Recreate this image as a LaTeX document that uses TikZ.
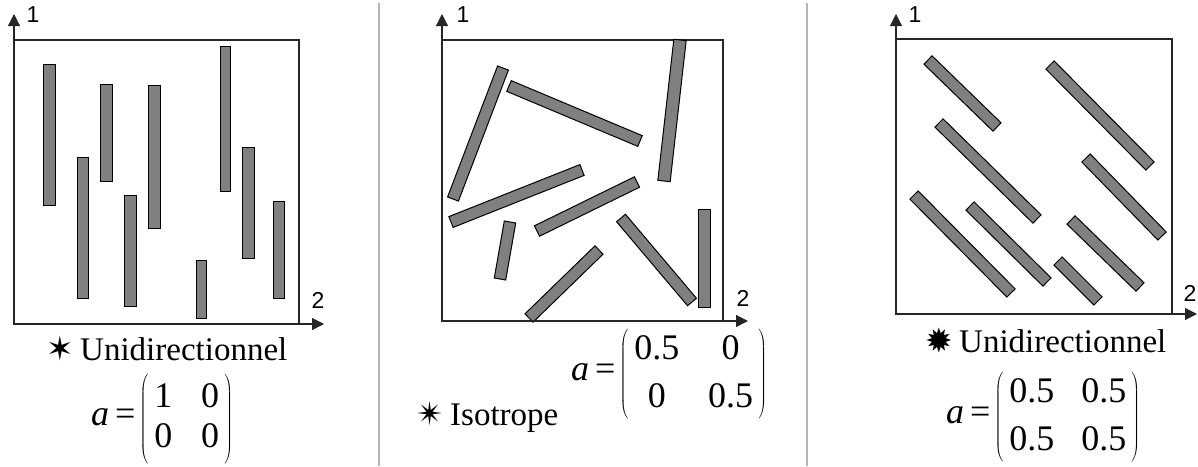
\documentclass[tikz,border=0pt]{standalone}
\usepackage{fontspec}
\setmainfont{Liberation Serif}
\newfontfamily\lblfont{Liberation Serif}
\newfontfamily\axfont{Liberation Sans}
\newfontfamily\symfont{DejaVu Sans}
\usetikzlibrary{arrows.meta,calc}
\definecolor{fibgray}{HTML}{808080}
\definecolor{sepgray}{HTML}{B4B4B4}
\newcommand\fib[3][5.8pt]{\draw[fibre] ($#2!#1!90:#3$) -- ($#3!#1!-90:#2$) -- ($#3!#1!90:#2$) -- ($#2!#1!-90:#3$) -- cycle;}
% #1 arraystretch, #2 column gap, #3 paren height, #4 body
\newcommand\amat[4]{{\fontsize{36}{40}\selectfont\delimiterfactor=1000\delimitershortfall=0pt
  \textit{a}\hspace{6pt}=\hspace{4pt}$\left(\vcenter to #3{\vss\hbox{\renewcommand\arraystretch{#1}\begin{tabular}{@{\hspace{6pt}}c@{\hspace{#2}}c@{\hspace{5pt}}}#4\end{tabular}}\vss}\right)$}}
\newcommand\lbl[2]{{\makebox[34pt][l]{\fontsize{33}{38}\symfont #1}\fontsize{33}{38}\lblfont #2}}
\begin{document}
\begin{tikzpicture}[x=1pt,y=-1pt,
  boxline/.style={draw=black!85, line width=1.2pt},
  axis/.style={black!85, line width=1.2pt, -{Triangle[length=12pt,width=12pt]}},
  fibre/.style={fill=fibgray, draw=black, line width=1pt},
  sepline/.style={draw=sepgray, line width=1.5pt},
  axlbl/.style={font=\fontsize{23}{25}\axfont, inner sep=0pt},
  txt/.style={inner sep=0pt}]
\useasboundingbox (0,0) rectangle (1198,466);
% separators
\draw[sepline] (379,3) -- (379,466);
\draw[sepline] (807,3) -- (807,466);

% ---------- panel 1 ----------
\coordinate (o1) at (14,324);
\coordinate (y1) at (14,14);
\coordinate (x1) at (324,324);
\draw[boxline] (14,40) rectangle (299,324);
\foreach \a/\b/\c/\d in {43/55/64/205, 77/88/157/298, 100/112/84/181, 124/136/195/306,
  148/160/85/228, 196/206/260/318, 220/230/46/191, 242/254/147/258, 273/284/201/298}
  \draw[fibre] (\a,\c) rectangle (\b,\d);
\draw[axis] (o1) -- (y1);
\draw[axis] (o1) -- (x1);
\node[axlbl] (l1a) at (33,15) {1};
\node[axlbl] (l1b) at (318,300) {2};
\node[txt, anchor=base west] (t1) at (46,360) {\lbl{✶}{Unidirectionnel}};
\node[txt, anchor=west] (m1) at (91,419) {\amat{1.0}{29pt}{88pt}{1&0\\0&0}};

% ---------- panel 2 ----------
\coordinate (o2) at (442,321);
\coordinate (y2) at (442,14);
\coordinate (x2) at (748,321);
\draw[boxline] (442,40) rectangle (723,321);
\fib{(503,68)}{(453,199)}
\fib{(509,86)}{(640,141)}
\fib[6.2pt]{(680,40)}{(664,181)}
\fib{(451,222)}{(582,170)}
\fib{(510,222)}{(500,279)}
\fib{(537,231)}{(637,182)}
\fib{(529,318)}{(599,250)}
\fib{(621,218)}{(692,302)}
\draw[fibre] (698,209) rectangle (710,307);
\draw[axis] (o2) -- (y2);
\draw[axis] (o2) -- (x2);
\node[axlbl] (l2a) at (463,15) {1};
\node[axlbl] (l2b) at (743,298) {2};
\node[txt, anchor=base west] (t2) at (416,425) {\lbl{✴}{Isotrope}};
\node[txt, anchor=west] (m2) at (571,374) {\amat{1.2}{29pt}{88pt}{0.5&0\\0&0.5}};

% ---------- panel 3 ----------
\coordinate (o3) at (896,314);
\coordinate (y3) at (896,14);
\coordinate (x3) at (1197,314);
\draw[boxline] (896,39) rectangle (1172,314);
\fib{(928,60)}{(997,127)}
\fib{(1050,65)}{(1150,166)}
\fib{(939,123)}{(1037,219)}
\fib{(1086,158)}{(1162,236)}
\fib{(914,195)}{(1011,293)}
\fib{(970,206)}{(1047,282)}
\fib{(1071,220)}{(1140,287)}
\fib{(1058,261)}{(1098,301)}
\draw[axis] (o3) -- (y3);
\draw[axis] (o3) -- (x3);
\node[axlbl] (l3a) at (915,15) {1};
\node[axlbl] (l3b) at (1190,293) {2};
\node[txt, anchor=base west] (t3) at (925,352) {\lbl{✹}{Unidirectionnel}};
\node[txt, anchor=west] (m3) at (946,417) {\amat{1.18}{27pt}{90pt}{0.5&0.5\\0.5&0.5}};
\end{tikzpicture}
\end{document}
